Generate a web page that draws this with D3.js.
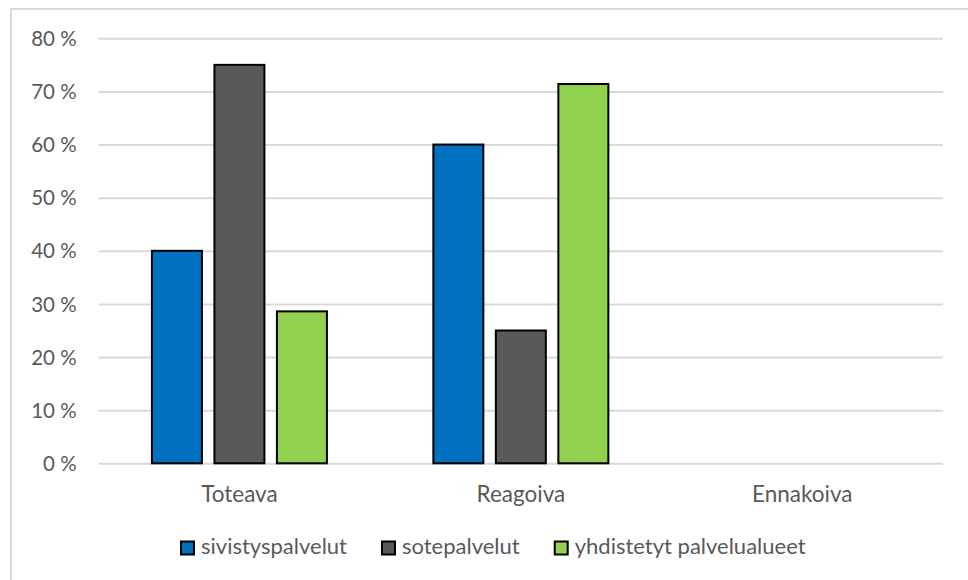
<!DOCTYPE html>
<html>
<head>
<meta charset="utf-8">
<script src="https://cdn.jsdelivr.net/npm/d3@7"></script>
<style>
  html, body { margin: 0; padding: 0; background: #fff; }
  svg { display: block; }
  text { font-family: Lato, "Open Sans", sans-serif; fill: #595959; }
</style>
</head>
<body>
<svg id="chart" width="968" height="580"></svg>
<script>
// Categories, series and tick labels
const categories = ["Toteava", "Reagoiva", "Ennakoiva"];
const seriesNames = ["sivistyspalvelut", "sotepalvelut", "yhdistetyt palvelualueet"];
const seriesColors = ["#0070C0", "#595959", "#92D050"];
const sivistyspalvelut = [40, 60, 0];
const sotepalvelut = [75, 25, 0];
const yhdistetytPalvelualueet = [28.6, 71.4, 0];
const yTicks = [0, 10, 20, 30, 40, 50, 60, 70, 80];

const seriesValues = [sivistyspalvelut, sotepalvelut, yhdistetytPalvelualueet];

const svg = d3.select("#chart");
const W = 968, H = 580;

// Outer chart frame
svg.append("rect")
  .attr("x", 11).attr("y", 9)
  .attr("width", W + 20).attr("height", H + 20)
  .attr("fill", "#fff")
  .attr("stroke", "#d9d9d9").attr("stroke-width", 2);

const plot = { left: 98.7, right: 943, top: 38.3, bottom: 463.3 };

const y = d3.scaleLinear().domain([0, 80]).range([plot.bottom, plot.top]);
const x0 = d3.scaleBand().domain(categories).range([plot.left, plot.right]).padding(0);
const groupW = 187.5;
const x1 = d3.scaleBand().domain(seriesNames).range([0, groupW])
  .paddingInner(0.2).paddingOuter(0.1);

// Horizontal gridlines and percentage labels
const yAxis = d3.axisLeft(y).tickValues(yTicks)
  .tickSize(-(plot.right - plot.left))
  .tickFormat(d => d + " %");
const gy = svg.append("g").attr("transform", `translate(${plot.left},0)`).call(yAxis);
gy.select(".domain").remove();
gy.selectAll(".tick line").attr("stroke", "#d9d9d9").attr("stroke-width", 2);
gy.selectAll(".tick text")
  .attr("x", -22).attr("dy", "0.35em")
  .attr("font-size", 20.5).attr("fill", "#595959")
  .style("font-family", "Lato, sans-serif");

// Bars
const groups = svg.append("g").selectAll("g")
  .data(categories)
  .join("g")
  .attr("transform", d => `translate(${x0(d) + x0.bandwidth() / 2 - groupW / 2},0)`);

groups.selectAll("rect")
  .data((c, ci) => seriesNames.map((s, si) => ({ s, si, v: seriesValues[si][ci] })))
  .join("rect")
  .filter(d => d.v > 0)
  .attr("x", d => x1(d.s))
  .attr("width", x1.bandwidth())
  .attr("y", d => y(d.v))
  .attr("height", d => y(0) - y(d.v))
  .attr("fill", d => seriesColors[d.si])
  .attr("stroke", "#000")
  .attr("stroke-width", 2);

// Category axis labels
const xAxis = d3.axisBottom(x0).tickSize(0).tickPadding(0);
const gx = svg.append("g").attr("transform", `translate(0,${plot.bottom})`).call(xAxis);
gx.select(".domain").remove();
gx.selectAll(".tick text")
  .attr("y", 39).attr("dy", 0)
  .attr("font-size", 22.5).attr("fill", "#595959")
  .style("font-family", "Lato, sans-serif");

// Legend
const legend = svg.append("g");
let lx = 181;
const ly = 541.5;
seriesNames.forEach((name, i) => {
  legend.append("rect")
    .attr("x", lx).attr("y", ly)
    .attr("width", 13).attr("height", 13)
    .attr("fill", seriesColors[i])
    .attr("stroke", "#000").attr("stroke-width", 2);
  const t = legend.append("text")
    .attr("x", lx + 20).attr("y", 553.5)
    .attr("font-size", 22)
    .text(name);
  lx += 20 + t.node().getComputedTextLength() + 35;
});
</script>
</body>
</html>
